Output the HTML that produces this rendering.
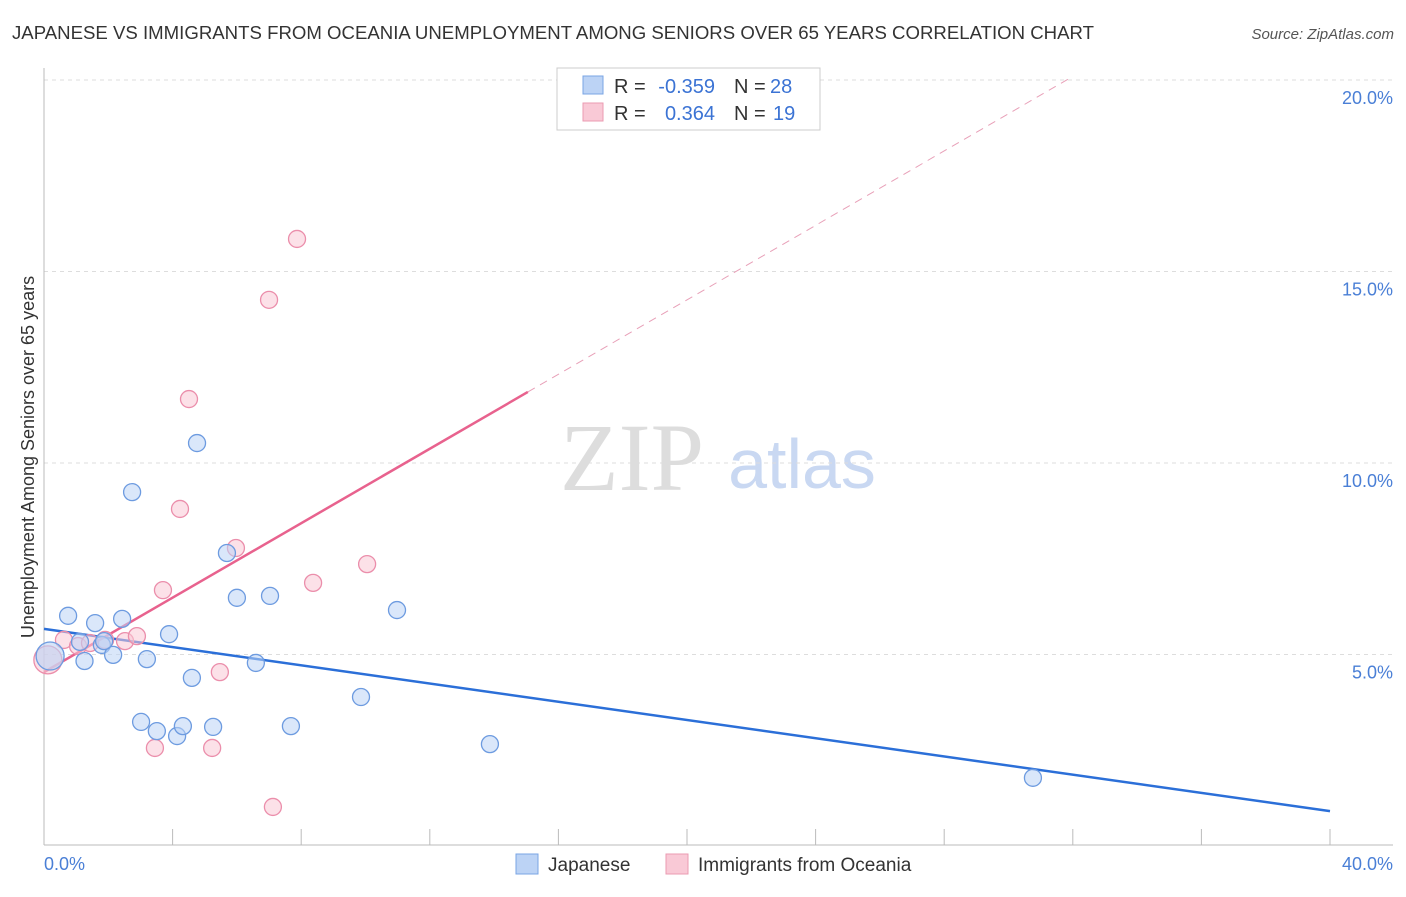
<!DOCTYPE html>
<html><head><meta charset="utf-8"><style>
body{margin:0;background:#fff;font-family:"Liberation Sans",sans-serif}
</style></head><body>
<svg width="1406" height="892" xmlns="http://www.w3.org/2000/svg">
<text x="12" y="39" font-size="18" fill="#333" textLength="1082" lengthAdjust="spacingAndGlyphs">JAPANESE VS IMMIGRANTS FROM OCEANIA UNEMPLOYMENT AMONG SENIORS OVER 65 YEARS CORRELATION CHART</text>
<text x="1394" y="39" font-size="15" fill="#555" font-style="italic" text-anchor="end">Source: ZipAtlas.com</text>
<text x="632" y="490" font-size="96" fill="#ddd" font-family="Liberation Serif,serif" text-anchor="middle">ZIP</text>
<text x="802" y="488" font-size="70" fill="#c9d8f2" text-anchor="middle">atlas</text>
<g id="grid"></g><g id="axes"></g><g id="lines"></g><g id="pts"></g>
<text transform="translate(34,457) rotate(-90)" font-size="18" fill="#333" text-anchor="middle">Unemployment Among Seniors over 65 years</text>
<text x="44" y="870" font-size="18" fill="#4a7fd6">0.0%</text>
<text x="1393" y="870" font-size="18" fill="#4a7fd6" text-anchor="end">40.0%</text>
<g font-size="20">
<rect x="557" y="68" width="263" height="62" fill="#fff" stroke="#ccc"/>
<rect x="583" y="76" width="20" height="18" fill="#bcd3f5" stroke="#7aa4e4"/>
<rect x="583" y="103" width="20" height="18" fill="#f9c9d6" stroke="#eb9bb2"/>
<text x="614" y="93" fill="#333">R =</text>
<text x="715" y="93" fill="#3b73d4" text-anchor="end">-0.359</text>
<text x="734" y="93" fill="#333">N =</text>
<text x="770" y="93" fill="#3b73d4">28</text>
<text x="614" y="120" fill="#333">R =</text>
<text x="715" y="120" fill="#3b73d4" text-anchor="end">0.364</text>
<text x="734" y="120" fill="#333">N =</text>
<text x="773" y="120" fill="#3b73d4">19</text>
</g>
<g>
<rect x="516" y="854" width="22" height="20" fill="#bcd3f5" stroke="#7aa4e4"/>
<text x="548" y="871" font-size="19" fill="#333">Japanese</text>
<rect x="666" y="854" width="22" height="20" fill="#f9c9d6" stroke="#eb9bb2"/>
<text x="698" y="871" font-size="19" fill="#333">Immigrants from Oceania</text>
</g>
</svg>
<script>
const yTicks=[5,10,15,20];
const yTickLabels=["5.0%","10.0%","15.0%","20.0%"];
const xTicks=[0,4,8,12,16,20,24,28,32,36,40];
const blueX=[0.19,0.75,1.26,1.59,1.80,2.15,2.43,3.20,2.74,3.02,3.51,3.89,4.14,4.32,4.60,4.76,5.26,5.69,6.00,6.59,7.03,7.68,9.86,10.98,13.87,30.76,1.12,1.87];
const blueY=[4.96,6.01,4.83,5.82,5.25,4.99,5.93,4.88,9.24,3.24,3.00,5.53,2.87,3.13,4.39,10.52,3.11,7.65,6.48,4.78,6.53,3.13,3.89,6.16,2.66,1.78,5.33,5.35];
const pinkX=[0.12,0.62,1.06,1.90,2.52,2.89,3.70,4.23,4.51,3.45,5.23,5.47,5.97,7.00,7.87,7.12,8.37,10.05,1.43];
const pinkY=[4.86,5.38,5.22,5.38,5.35,5.48,6.68,8.80,11.67,2.56,2.56,4.54,7.78,14.26,15.85,1.02,6.87,7.36,5.30];
const blueTrend=[5.67,-0.119];
const pinkTrend=[4.54,0.486];
const pinkSolidEnd=15.05;
const NS="http://www.w3.org/2000/svg";
const X=v=>44+v/40*1286, Y=v=>846-v*38.3;
function mk(t,a,p){const e=document.createElementNS(NS,t);for(const k in a)e.setAttribute(k,a[k]);document.getElementById(p).appendChild(e);return e;}
yTicks.forEach((t,i)=>{
 const g=mk('line',{x1:44,x2:1393,y1:Y(t),y2:Y(t),stroke:'#ddd','stroke-dasharray':'4,4'},'grid');
 
 
 const l=mk('text',{x:1393,y:Y(t)+24,'font-size':18,fill:'#4a7fd6','text-anchor':'end'},'grid');
 l.textContent=yTickLabels[i];
 
 
});
const ax=mk('line',{x1:44,x2:44,y1:68,y2:845,stroke:'#bbb'},'axes');


const bx=mk('line',{x1:44,x2:1393,y1:845,y2:845,stroke:'#bbb'},'axes');


xTicks.forEach(t=>{const e=mk('line',{x1:X(t),x2:X(t),y1:829,y2:845,stroke:'#bbb'},'axes');
 
 });
let e=mk('line',{x1:X(0),y1:Y(blueTrend[0]),x2:X(40),y2:Y(blueTrend[0]+40*blueTrend[1]),stroke:'#2b6fd8','stroke-width':2.5},'lines');


e=mk('line',{x1:X(0),y1:Y(pinkTrend[0]),x2:X(pinkSolidEnd),y2:Y(pinkTrend[0]+pinkSolidEnd*pinkTrend[1]),stroke:'#e8628e','stroke-width':2.5},'lines');


const xe=(20.05-pinkTrend[0])/pinkTrend[1];
e=mk('line',{x1:X(pinkSolidEnd),y1:Y(pinkTrend[0]+pinkSolidEnd*pinkTrend[1]),x2:X(xe),y2:Y(20.05),stroke:'#e8a0b8','stroke-width':1,'stroke-dasharray':'8,6'},'lines');


function pts(xs,ys,fill,stroke,name){xs.forEach((x,i)=>{const c=mk('circle',{cx:X(x),cy:Y(ys[i]),r:i==0?14:8.5,fill:fill,'fill-opacity':i==0?0.6:0.55,stroke:stroke,'stroke-width':1.3},'pts');
 
 });}
pts(pinkX,pinkY,'#f9c9d6','#eb8eab','oceania-point');
pts(blueX,blueY,'#bcd3f5','#6d9be0','japanese-point');
</script>
</body></html>
